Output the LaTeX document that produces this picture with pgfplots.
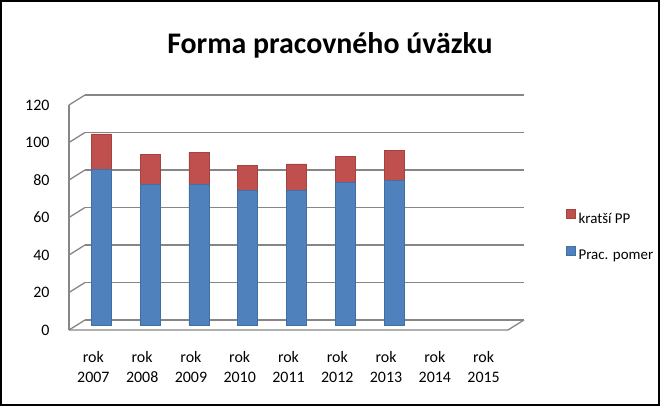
\documentclass[border=0pt]{standalone}
\usepackage{pgfplots}
\pgfplotsset{compat=1.18}
\usepackage{fontspec}
\setmainfont{Carlito}
\definecolor{cblue}{HTML}{4F81BD}
\definecolor{cred}{HTML}{C0504D}
\definecolor{gridc}{HTML}{868686}
\pgfplotsset{
  common/.style={
    at={(69bp,76bp)}, anchor=south west,
    scale only axis, width=439bp, height=225bp,
    xmin=-0.5, xmax=8.5, ymin=0, ymax=120,
    clip=false,
    axis line style={draw=none}, tick style={draw=none},
  }
}
\begin{document}
\begin{tikzpicture}[x=1bp,y=1bp]
\draw[line width=2bp] (1,1) rectangle (659,405);
\useasboundingbox (0,0) rectangle (660,406);
\node[font=\fontsize{30}{36}\selectfont\bfseries] at (330,361) {Forma pracovného úväzku};
% background walls and gridlines
\begin{axis}[common, xtick=\empty, ytick=\empty]
\pgfplotsinvokeforeach{0,20,40,60,80,100,120}{
  \draw[gridc, line width=1.3bp] ([shift={(16bp,10bp)}]axis cs:-0.5,#1) -- ([shift={(16bp,10bp)}]axis cs:8.5,#1);
  \draw[gridc, line width=1.3bp] (axis cs:-0.5,#1) -- ([shift={(16bp,10bp)}]axis cs:-0.5,#1);
}
\draw[gridc, line width=1.3bp] (axis cs:-0.5,0) -- (axis cs:-0.5,120);
\draw[gridc, line width=1.3bp] (axis cs:-0.5,0) -- (axis cs:8.5,0) -- ([shift={(16bp,10bp)}]axis cs:8.5,0);
\end{axis}
\begin{axis}[
  common,
  ybar stacked, bar width=20bp, bar shift=8bp,
  ytick={0,20,...,120},
  xtick={0,...,8},
  xticklabels={{rok\\2007},{rok\\2008},{rok\\2009},{rok\\2010},{rok\\2011},{rok\\2012},{rok\\2013},{rok\\2014},{rok\\2015}},
  xticklabel style={align=center, font=\fontsize{16}{20}\selectfont, yshift=-18bp},
  yticklabel style={font=\fontsize{16}{19}\selectfont, xshift=-16bp},
  /pgf/number format/assume math mode=true,
  legend style={at={(1.125,0.416)}, anchor=west, draw=none, fill=none,
    font=\fontsize{15}{18}\selectfont, row sep=19bp,
    /tikz/every even column/.style={column sep=3bp},
    /tikz/every odd column/.style={column sep=1bp}},
  legend cell align=left,
  reverse legend,
  legend image code/.code={\fill[#1] (0bp,-4.5bp) rectangle (9bp,4.5bp);},
]
\addplot[draw=cblue!85!black, line width=0.5bp, fill=cblue, yshift=5bp] coordinates {(0,83) (1,75) (2,75) (3,72) (4,72) (5,76) (6,77)};
\addplot[draw=cred!85!black, line width=0.5bp, fill=cred, yshift=5bp] coordinates {(0,19) (1,16) (2,17) (3,13) (4,14) (5,14) (6,16)};
\legend{Prac. pomer, kratší PP}
\end{axis}
\end{tikzpicture}
\end{document}
